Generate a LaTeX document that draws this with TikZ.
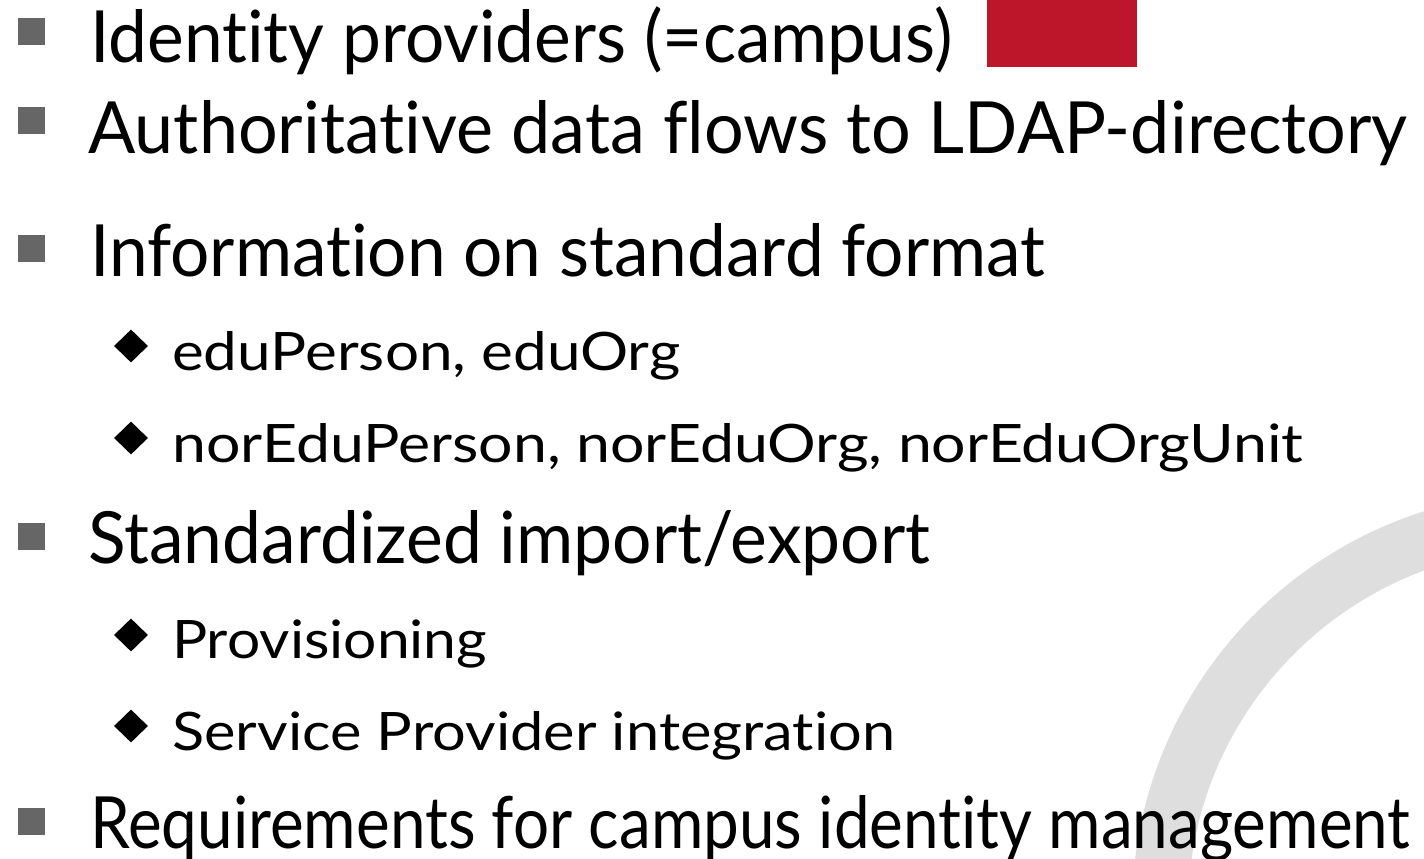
\documentclass[tikz,border=0pt]{standalone}
\usepackage{fontspec}
\usepackage{graphicx}
\setmainfont{Lato}[Ligatures={NoCommon,NoRequired,NoContextual}]
\usetikzlibrary{shapes.geometric}

\definecolor{bulletgrey}{HTML}{666666}
\definecolor{logored}{HTML}{BD1529}
\definecolor{ringgrey}{HTML}{DEDEDE}

% set a line of text and stretch it to a given width, keeping its height
\newcommand{\fitline}[2]{\resizebox{#1}{\height}{#2}}
\newcommand{\mainsize}{\fontsize{72}{80}\selectfont}
\newcommand{\subsize}{\fontsize{53}{60}\selectfont}

\begin{document}
\begin{tikzpicture}[x=1pt,y=-1pt,
  sqbullet/.style={rectangle, fill=bulletgrey, minimum size=27pt, inner sep=0pt},
  dmbullet/.style={diamond, fill=black, minimum width=34pt, minimum height=33pt, inner sep=0pt},
  maintext/.style={anchor=base west, inner sep=0pt, font=\mainsize},
  subtext/.style={anchor=base west, inner sep=0pt, font=\subsize}]
  \useasboundingbox (0,0) rectangle (1424,859);
  \clip (0,0) rectangle (1424,859);

  % background ring
  \draw[ringgrey, line width=56pt] (1550,910) circle[radius=390pt];

  % red block
  \fill[logored] (987,-5) rectangle (1137,67);

  % top-level items
  \node[sqbullet] (b1) at (31.5,31.5) {};
  \node[maintext] (t1) at (90,63) {\fitline{862pt}{Identity providers (=campus)}};

  \node[sqbullet] (b2) at (31.5,120) {};
  \node[maintext] (t2) at (88,153) {\fitline{1319pt}{Authoritative data flows to LDAP-directory}};

  \node[sqbullet] (b3) at (31.5,248.5) {};
  \node[maintext] (t3) at (90,276) {\fitline{955pt}{Information on standard format}};

  \node[dmbullet] (d1) at (131,346) {};
  \node[subtext] (s1) at (172,370) {\fitline{508pt}{eduPerson, eduOrg}};

  \node[dmbullet] (d2) at (131,438) {};
  \node[subtext] (s2) at (172,462) {\fitline{1131pt}{norEduPerson, norEduOrg, norEduOrgUnit}};

  \node[sqbullet] (b4) at (31.5,536.5) {};
  \node[maintext] (t4) at (88,563) {\fitline{842pt}{Standardized import/export}};

  \node[dmbullet] (d3) at (131,635) {};
  \node[subtext] (s3) at (172,658) {\fitline{315pt}{Provisioning}};

  \node[dmbullet] (d4) at (131,726) {};
  \node[subtext] (s4) at (172,750) {\fitline{723pt}{Service Provider integration}};

  \node[sqbullet] (b5) at (31.5,821.5) {};
  \node[maintext] (t5) at (90,848) {\fitline{1320pt}{Requirements for campus identity management}};
\end{tikzpicture}
\end{document}
